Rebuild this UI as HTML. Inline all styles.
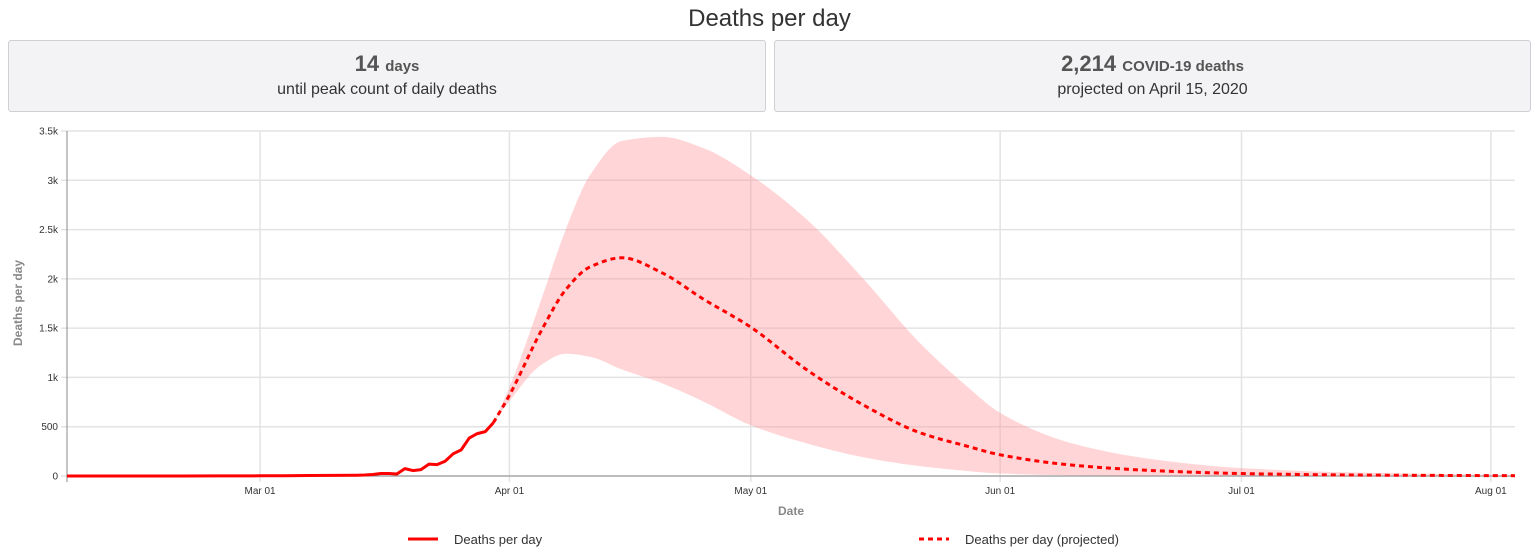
<!DOCTYPE html>
<html><head><meta charset="utf-8"><style>
body{margin:0;width:1539px;height:548px;background:#fff;font-family:"Liberation Sans",Arial,sans-serif;overflow:hidden;position:relative}
.title{position:absolute;top:5px;left:0;width:1539px;text-align:center;font-size:24px;color:#333}
.box{position:absolute;top:40px;height:70px;background:#f3f3f5;border:1px solid #d0d0d4;border-radius:3px;text-align:center;color:#555}
.big{margin-top:10px;font-size:22px;font-weight:bold}
.big span{font-size:15px}
.sub{margin-top:4px;font-size:16px;color:#333}
</style></head><body>
<div class="title">Deaths per day</div>
<div class="box" style="left:8px;width:756px"><div class="big">14 <span>days</span></div><div class="sub">until peak count of daily deaths</div></div>
<div class="box" style="left:774px;width:755px"><div class="big">2,214 <span>COVID-19 deaths</span></div><div class="sub">projected on April 15, 2020</div></div>
<svg id="chart" width="1539" height="548" style="position:absolute;left:0;top:0"></svg>
<script>
// day offsets from Mar 1, 2020
const actualDays=[-24,-20,-15,-10,-5,0,3,6,9,12,13,14,15,16,17,18,19,20,21,22,23,24,25,26,27,28,29];
const actualVals=[0,0,0,0,1,2,3,5,6,8,10,15,25,25,20,75,55,65,120,115,150,225,265,385,430,450,540];
const projDays=[29,31,35,38,41,45,50,55,61,68,75,82,88,92,101,111,122,136,156];
const projMean=[540,820,1480,1890,2120,2214,2060,1800,1510,1075,720,440,300,215,110,55,25,10,3];
const projUpper=[540,900,1800,2500,3050,3400,3440,3330,3050,2600,2000,1350,900,640,330,170,80,35,10];
const projLower=[540,760,1130,1240,1210,1080,940,760,515,330,190,100,50,25,8,4,2,1,0];
const yTicks=[0,500,1000,1500,2000,2500,3000,3500];
const yTickLabels=["0","500","1k","1.5k","2k","2.5k","3k","3.5k"];
const xTickDays=[0,31,61,92,122,153];
const xTickLabels=["Mar 01","Apr 01","May 01","Jun 01","Jul 01","Aug 01"];
const X0=67,X1=1515,Y0=476,Y1=131,D0=-24,D1=156,V1=3500;
const xs=d=>X0+(d-D0)/(D1-D0)*(X1-X0);
const ys=v=>Y0-v/V1*(Y0-Y1);
const svg=document.getElementById('chart');
const NS='http://www.w3.org/2000/svg';
function mk(t,a,parent){const e=document.createElementNS(NS,t);for(const k in a)e.setAttribute(k,a[k]);(parent||svg).appendChild(e);return e;}
// monotone cubic (x-parameterised) path
function mono(pts,move){const n=pts.length,dx=[],m=[],t=[];
 for(let i=0;i<n-1;i++){dx[i]=pts[i+1][0]-pts[i][0];m[i]=(pts[i+1][1]-pts[i][1])/dx[i];}
 t[0]=m[0];t[n-1]=m[n-2];
 for(let i=1;i<n-1;i++){if(m[i-1]*m[i]<=0)t[i]=0;else{const w1=2*dx[i]+dx[i-1],w2=dx[i]+2*dx[i-1];t[i]=(w1+w2)/(w1/m[i-1]+w2/m[i]);}}
 let d=(move?'M':'L')+pts[0][0]+','+pts[0][1];
 for(let i=0;i<n-1;i++){const h=dx[i]/3;d+=` C${pts[i][0]+h},${pts[i][1]+t[i]*h} ${pts[i+1][0]-h},${pts[i+1][1]-t[i+1]*h} ${pts[i+1][0]},${pts[i+1][1]}`;}
 return d;}
function monoRev(pts){ // draw reversed path using same curve
 const n=pts.length,dx=[],m=[],t=[];
 for(let i=0;i<n-1;i++){dx[i]=pts[i+1][0]-pts[i][0];m[i]=(pts[i+1][1]-pts[i][1])/dx[i];}
 t[0]=m[0];t[n-1]=m[n-2];
 for(let i=1;i<n-1;i++){if(m[i-1]*m[i]<=0)t[i]=0;else{const w1=2*dx[i]+dx[i-1],w2=dx[i]+2*dx[i-1];t[i]=(w1+w2)/(w1/m[i-1]+w2/m[i]);}}
 let d='L'+pts[n-1][0]+','+pts[n-1][1];
 for(let i=n-2;i>=0;i--){const h=dx[i]/3;d+=` C${pts[i+1][0]-h},${pts[i+1][1]-t[i+1]*h} ${pts[i][0]+h},${pts[i][1]+t[i]*h} ${pts[i][0]},${pts[i][1]}`;}
 return d;}
// grid
yTicks.forEach((v,i)=>{
 const l=mk('line',{x1:X0-6,x2:X1,y1:ys(v),y2:ys(v),stroke:'#e3e3e3','stroke-width':1.5});
 
 const t=mk('text',{x:X0-9,y:ys(v)+3.5,'text-anchor':'end','font-size':10,fill:'#333'});t.textContent=yTickLabels[i];
 
});
xTickDays.forEach((d,i)=>{
 const l=mk('line',{x1:xs(d),x2:xs(d),y1:Y1,y2:Y0+6,stroke:'#e3e3e3','stroke-width':1.5});
 
 const t=mk('text',{x:xs(d),y:Y0+18,'text-anchor':'middle','font-size':10,fill:'#333'});t.textContent=xTickLabels[i];
 
});
mk('line',{x1:X0,x2:X0,y1:Y1,y2:Y0+6,stroke:'#888'});
mk('line',{x1:X0,x2:X1,y1:Y0,y2:Y0,stroke:'#888'});
// band
const up=projDays.map((d,i)=>[xs(d),ys(projUpper[i])]);
const lo=projDays.map((d,i)=>[xs(d),ys(projLower[i])]);
const band=mk('path',{d:mono(up,true)+' '+monoRev(lo)+' Z',fill:'rgba(255,150,155,0.4)'});

const act=mk('polyline',{points:actualDays.map((d,i)=>xs(d)+','+ys(actualVals[i])).join(' '),fill:'none',stroke:'#f00','stroke-width':3,'stroke-linejoin':'round'});

const pm=mk('path',{d:mono(projDays.map((d,i)=>[xs(d),ys(projMean[i])]),true),fill:'none',stroke:'#f00','stroke-width':3,'stroke-dasharray':'5,4'});

// axis titles
const xt=mk('text',{x:(X0+X1)/2,y:515,'text-anchor':'middle','font-size':12,'font-weight':'bold',fill:'#888'});xt.textContent='Date';

const yt=mk('text',{x:0,y:0,transform:'translate(22,303) rotate(-90)','text-anchor':'middle','font-size':12,'font-weight':'bold',fill:'#888'});yt.textContent='Deaths per day';

// legend
const g1=mk('g',{});
mk('line',{x1:408,x2:438,y1:539,y2:539,stroke:'#f00','stroke-width':3},g1);
const l1=mk('text',{x:454,y:544,'font-size':13,fill:'#333'},g1);l1.textContent='Deaths per day';
const g2=mk('g',{});
mk('line',{x1:919,x2:949,y1:539,y2:539,stroke:'#f00','stroke-width':3,'stroke-dasharray':'5,4'},g2);
const l2=mk('text',{x:965,y:544,'font-size':13,fill:'#333'},g2);l2.textContent='Deaths per day (projected)';
</script>
</body></html>
